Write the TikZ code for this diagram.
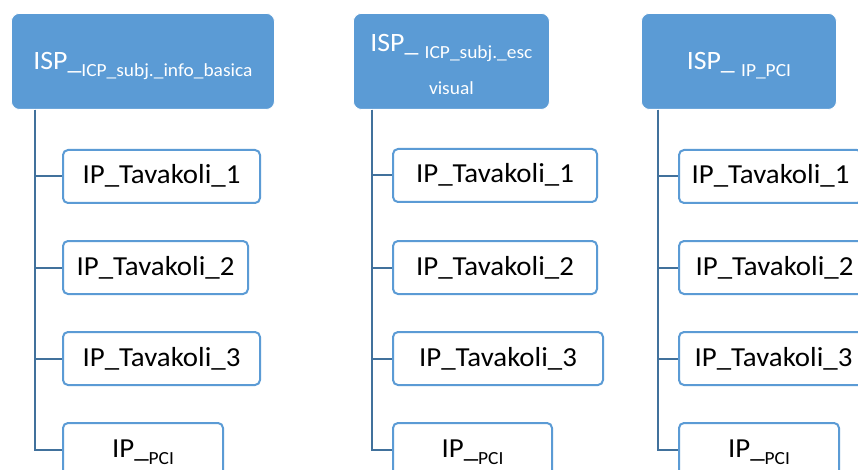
\documentclass[tikz,border=0pt]{standalone}
\usepackage{fontspec}
\setmainfont{Carlito}[FakeStretch=1.05]
\definecolor{hdrblue}{HTML}{5B9BD5}
\definecolor{linkblue}{HTML}{41719C}
\newcommand\lowsub[1]{\raisebox{-7pt}{\fontsize{18.5}{20}\selectfont #1}}
\tikzset{
  hdr/.style={draw=white, line width=0.8pt, fill=hdrblue, rounded corners=8pt,
    text=white, font=\fontsize{26.5}{30}\selectfont, inner sep=0pt, align=center,
    anchor=north west, minimum height=96pt, text depth=0pt},
  leaf/.style={draw=hdrblue, line width=2pt, fill=white, rounded corners=5pt,
    font=\fontsize{27.5}{30}\selectfont, inner sep=0pt, anchor=north west,
    minimum height=53pt, text height=19pt, text depth=4pt},
  conn/.style={draw=linkblue, line width=2pt},
}
\begin{document}
\begin{tikzpicture}[x=1pt,y=-1pt]
\useasboundingbox (0,0) rectangle (858,470);
\clip (0,0) rectangle (858,470);
\fill[white] (0,0) rectangle (858,470);
% column 1
\node[hdr, minimum width=263pt] (h1) at (11,13) {ISP\_\lowsub{ICP\_subj.\_info\_basica}};
\node[leaf, minimum width=197pt] (a1) at (62,149) {IP\_Tavakoli\_1};
\node[leaf, minimum width=185pt] (a2) at (62,240) {IP\_Tavakoli\_2};
\node[leaf, minimum width=197pt] (a3) at (62,331) {IP\_Tavakoli\_3};
\node[leaf, minimum width=160pt] (a4) at (62,422) {IP\_\lowsub{PCI}};
\foreach \n in {a1,a2,a3,a4} \draw[conn] ([xshift=24pt]h1.south west) |- (\n.west);
% column 2
\node[hdr, minimum width=196pt] (h2) at (353,13) {ISP\_ \lowsub{ICP\_subj.\_esc}\\[6pt]\lowsub{visual}};
\node[leaf, minimum width=204pt] (b1) at (392,148) {IP\_Tavakoli\_1};
\node[leaf, minimum width=204pt] (b2) at (392,240) {IP\_Tavakoli\_2};
\node[leaf, minimum width=210pt] (b3) at (392,331) {IP\_Tavakoli\_3};
\node[leaf, minimum width=159pt] (b4) at (392,422) {IP\_\lowsub{PCI}};
\foreach \n in {b1,b2,b3,b4} \draw[conn] ([xshift=19pt]h2.south west) |- (\n.west);
% column 3
\node[hdr, minimum width=195pt] (h3) at (641,13) {ISP\_ \lowsub{IP\_PCI}};
\node[leaf, minimum width=183pt] (c1) at (678,149) {IP\_Tavakoli\_1};
\node[leaf, minimum width=191pt] (c2) at (678,240) {IP\_Tavakoli\_2};
\node[leaf, minimum width=189pt] (c3) at (678,331) {IP\_Tavakoli\_3};
\node[leaf, minimum width=160pt] (c4) at (678,422) {IP\_\lowsub{PCI}};
\foreach \n in {c1,c2,c3,c4} \draw[conn] ([xshift=17pt]h3.south west) |- (\n.west);
\end{tikzpicture}
\end{document}
